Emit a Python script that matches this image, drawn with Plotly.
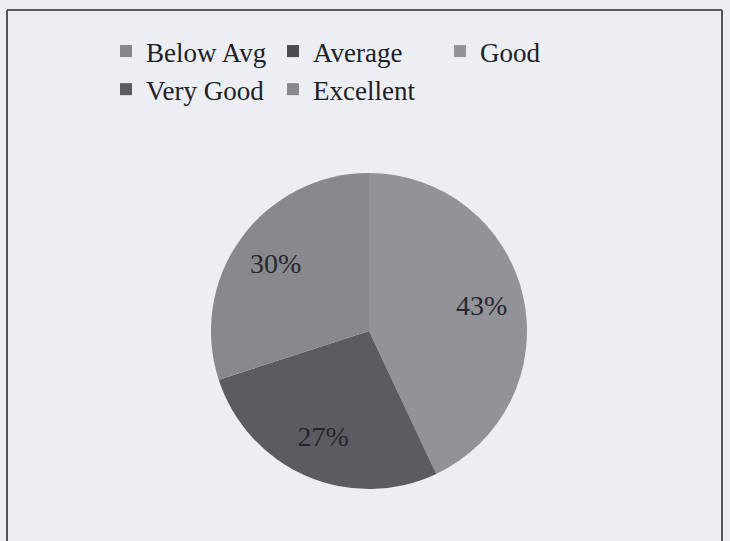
import plotly.graph_objects as go

categories = ["Below Avg", "Average", "Good", "Very Good", "Excellent"]
percent_values = [0, 0, 43, 27, 30]
slice_colors = ["#85878c", "#4a4c51", "#919399", "#5a5c62", "#87898e"]

slice_text = [f"{v}%" if v else "" for v in percent_values]

W, H = 730, 541
ML, MR = 0, 120            # right margin only limits the legend row width (3 entries per row)
PW = W - ML - MR           # plot-area width in pixels


def px(x):
    """figure pixel -> paper fraction (x)"""
    return (x - ML) / PW


def py(y):
    """figure pixel (from top) -> paper fraction (y)"""
    return 1 - y / H


cx, cy, r = 369, 331, 158
pie_domain = dict(x=[px(cx - r), px(cx + r)], y=[py(cy + r), py(cy - r)])

fig = go.Figure()
# coloured slices
fig.add_trace(go.Pie(
    labels=categories,
    values=percent_values,
    textinfo="none",
    sort=False,
    direction="clockwise",
    rotation=0,
    marker=dict(colors=slice_colors, line=dict(width=0)),
    domain=pie_domain,
    hoverinfo="label+percent",
))
# percentage labels (transparent ring so labels sit at ~3/4 radius)
fig.add_trace(go.Pie(
    labels=categories,
    values=percent_values,
    text=slice_text,
    textinfo="text",
    textposition="inside",
    insidetextorientation="horizontal",
    hole=0.46,
    sort=False,
    direction="clockwise",
    rotation=0,
    marker=dict(colors=["rgba(0,0,0,0)"] * len(categories), line=dict(width=0)),
    textfont=dict(family="Liberation Serif", size=28, color="#26272c"),
    domain=pie_domain,
    showlegend=False,
    hoverinfo="skip",
))

fig.update_layout(
    width=W,
    height=H,
    margin=dict(l=ML, r=MR, t=0, b=0, autoexpand=False),
    paper_bgcolor="#eceef3",
    plot_bgcolor="#eceef3",
    showlegend=True,
    legend=dict(
        orientation="h",
        xref="container",
        yref="paper",
        x=106 / W,
        xanchor="left",
        y=py(27),
        yanchor="top",
        entrywidth=122,
        entrywidthmode="pixels",
        font=dict(family="Liberation Serif", size=27, color="#202125"),
        bgcolor="rgba(0,0,0,0)",
        traceorder="normal",
    ),
    shapes=[
        dict(type="line", xref="paper", yref="paper", x0=px(7), x1=px(722), y0=py(10), y1=py(10),
             line=dict(color="#55575c", width=2)),
        dict(type="line", xref="paper", yref="paper", x0=px(7), x1=px(7), y0=py(10), y1=py(545),
             line=dict(color="#55575c", width=2)),
        dict(type="line", xref="paper", yref="paper", x0=px(722), x1=px(722), y0=py(10), y1=py(545),
             line=dict(color="#55575c", width=2)),
    ],
)

fig.write_html("out.html", config={"displayModeBar": False},
               post_script="document.body.style.margin='0';")
